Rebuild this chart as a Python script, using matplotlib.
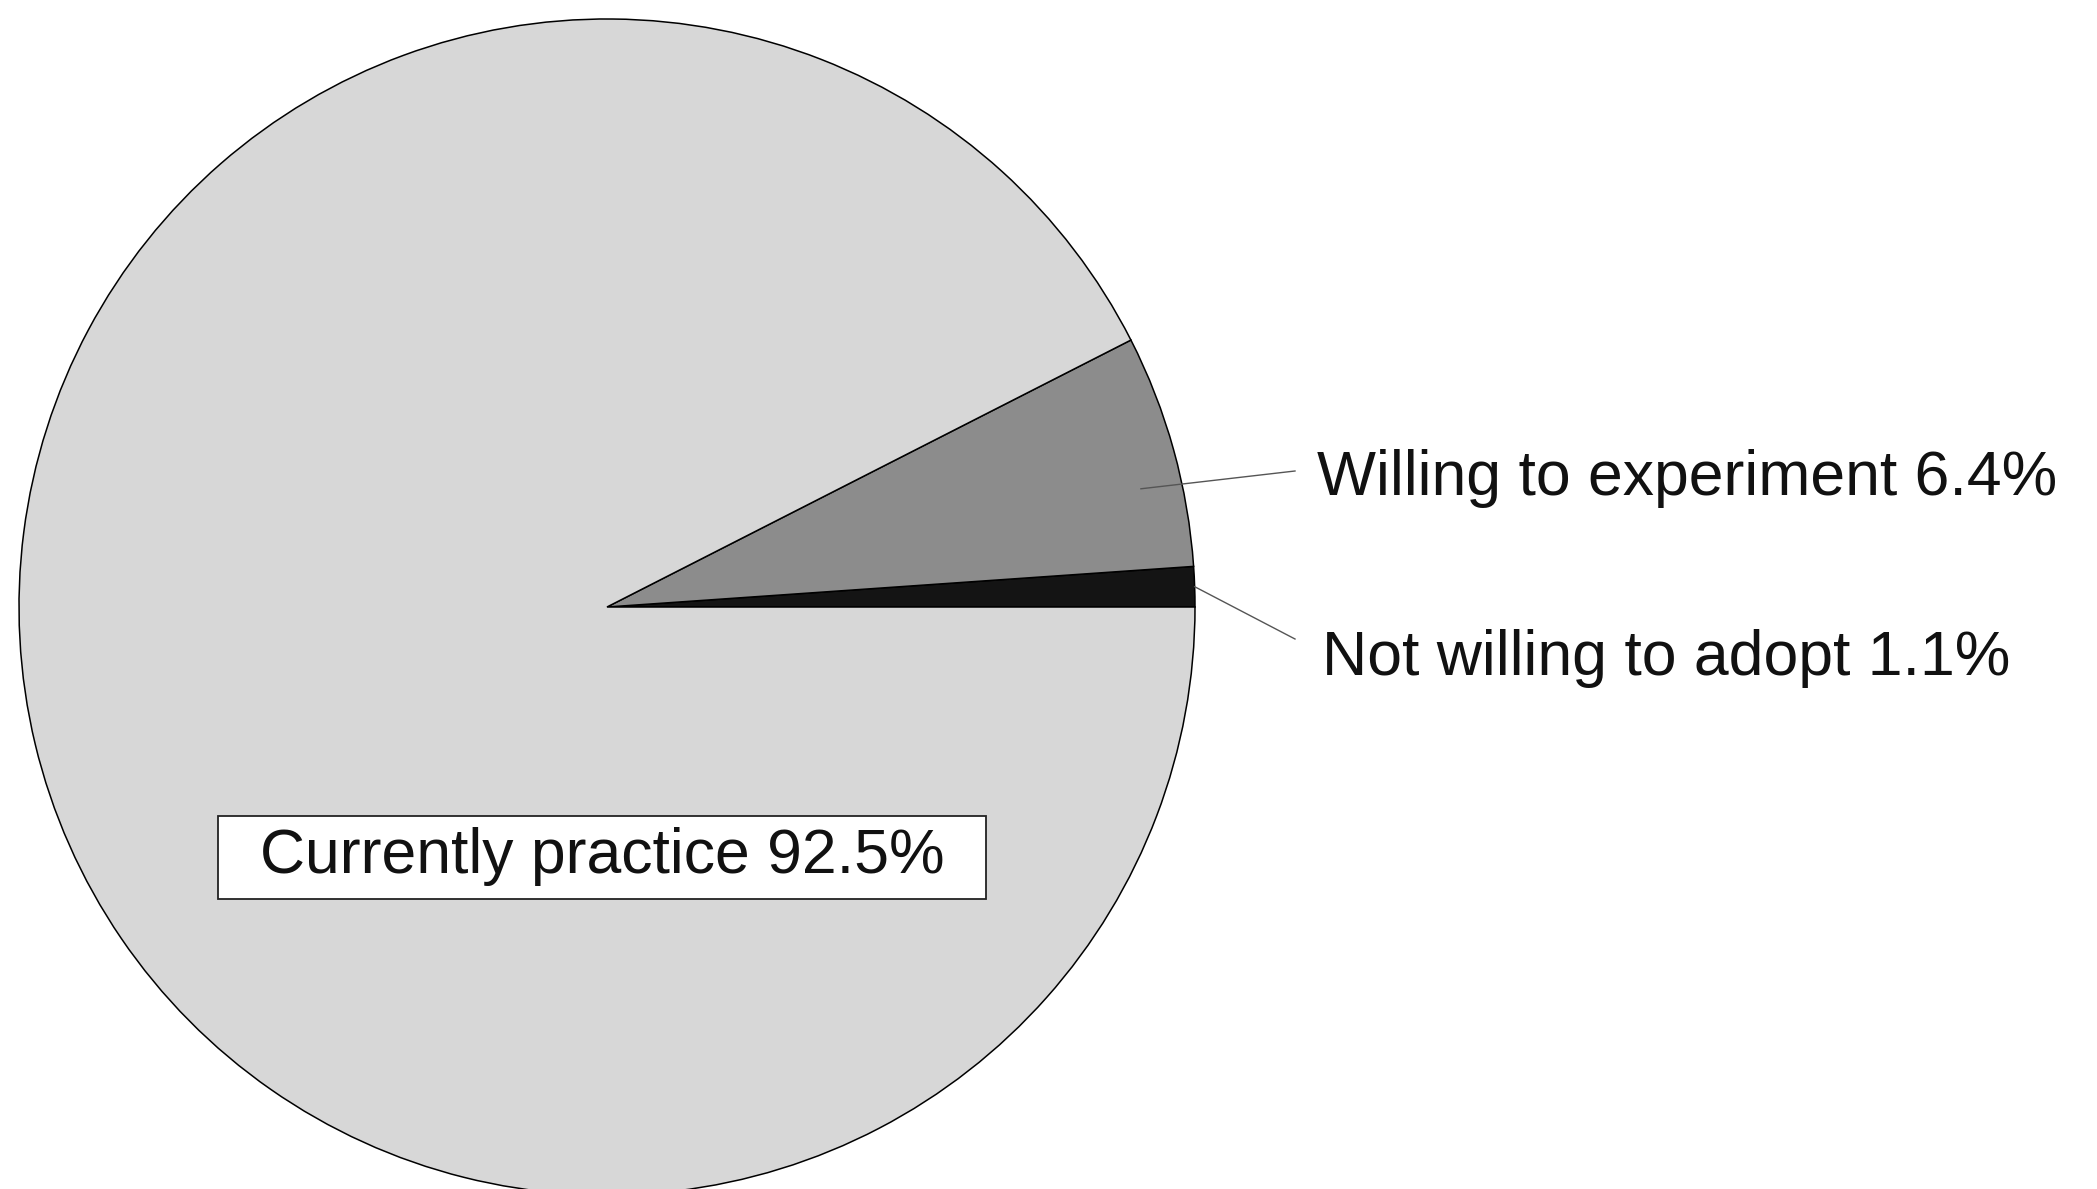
import numpy as np
import matplotlib.pyplot as plt
from matplotlib.patches import Rectangle

# slices, counter-clockwise from 3 o'clock
labels = ["Not willing to adopt", "Willing to experiment", "Currently practice"]
shares = [1.1, 6.4, 92.5]
colors = ["#141414", "#8c8c8c", "#d7d7d7"]

W, H = 2097, 1189
fig = plt.figure(figsize=(W / 100, H / 100), dpi=100)
ax = fig.add_axes([0, 0, 1, 1])

cx, cy, R = 607, 582, 588  # pie centre / radius in pixels
wedges, _ = ax.pie(shares, colors=colors, startangle=0, counterclock=True,
                   center=(cx, cy), radius=R, frame=True,
                   wedgeprops=dict(edgecolor="black", linewidth=1.1))
ax.set_xlim(0, W)
ax.set_ylim(0, H)
ax.set_aspect("equal")
ax.axis("off")

font = "Liberation Sans"
fs = 45

def edge_pt(w, frac, rr):
    a = np.deg2rad(w.theta1 + (w.theta2 - w.theta1) * frac)
    return cx + rr * R * np.cos(a), cy + rr * R * np.sin(a)

# willing to experiment
x0, y0 = edge_pt(wedges[1], 0.37, 0.93)
ax.plot([x0, 1295], [y0, 718], color="#555555", lw=1.0)
ax.text(1317, 710, f"{labels[1]} {shares[1]}%", fontsize=fs, family=font,
        va="center", ha="left", color="#111111")

# not willing to adopt
x0, y0 = edge_pt(wedges[0], 0.5, 1.0)
ax.plot([x0, 1295], [y0, 550], color="#555555", lw=1.0)
ax.text(1322, 531, f"{labels[0]} {shares[0]}%", fontsize=fs, family=font,
        va="center", ha="left", color="#111111")

# boxed label for the big slice
ax.add_patch(Rectangle((218, 290), 768, 83, facecolor="white",
                       edgecolor="#222222", linewidth=1.3, zorder=3))
ax.text(602, 333, f"{labels[2]} {shares[2]}%", fontsize=fs, family=font,
        va="center", ha="center", color="#111111", zorder=4)

fig.savefig("out.png", dpi=100)
